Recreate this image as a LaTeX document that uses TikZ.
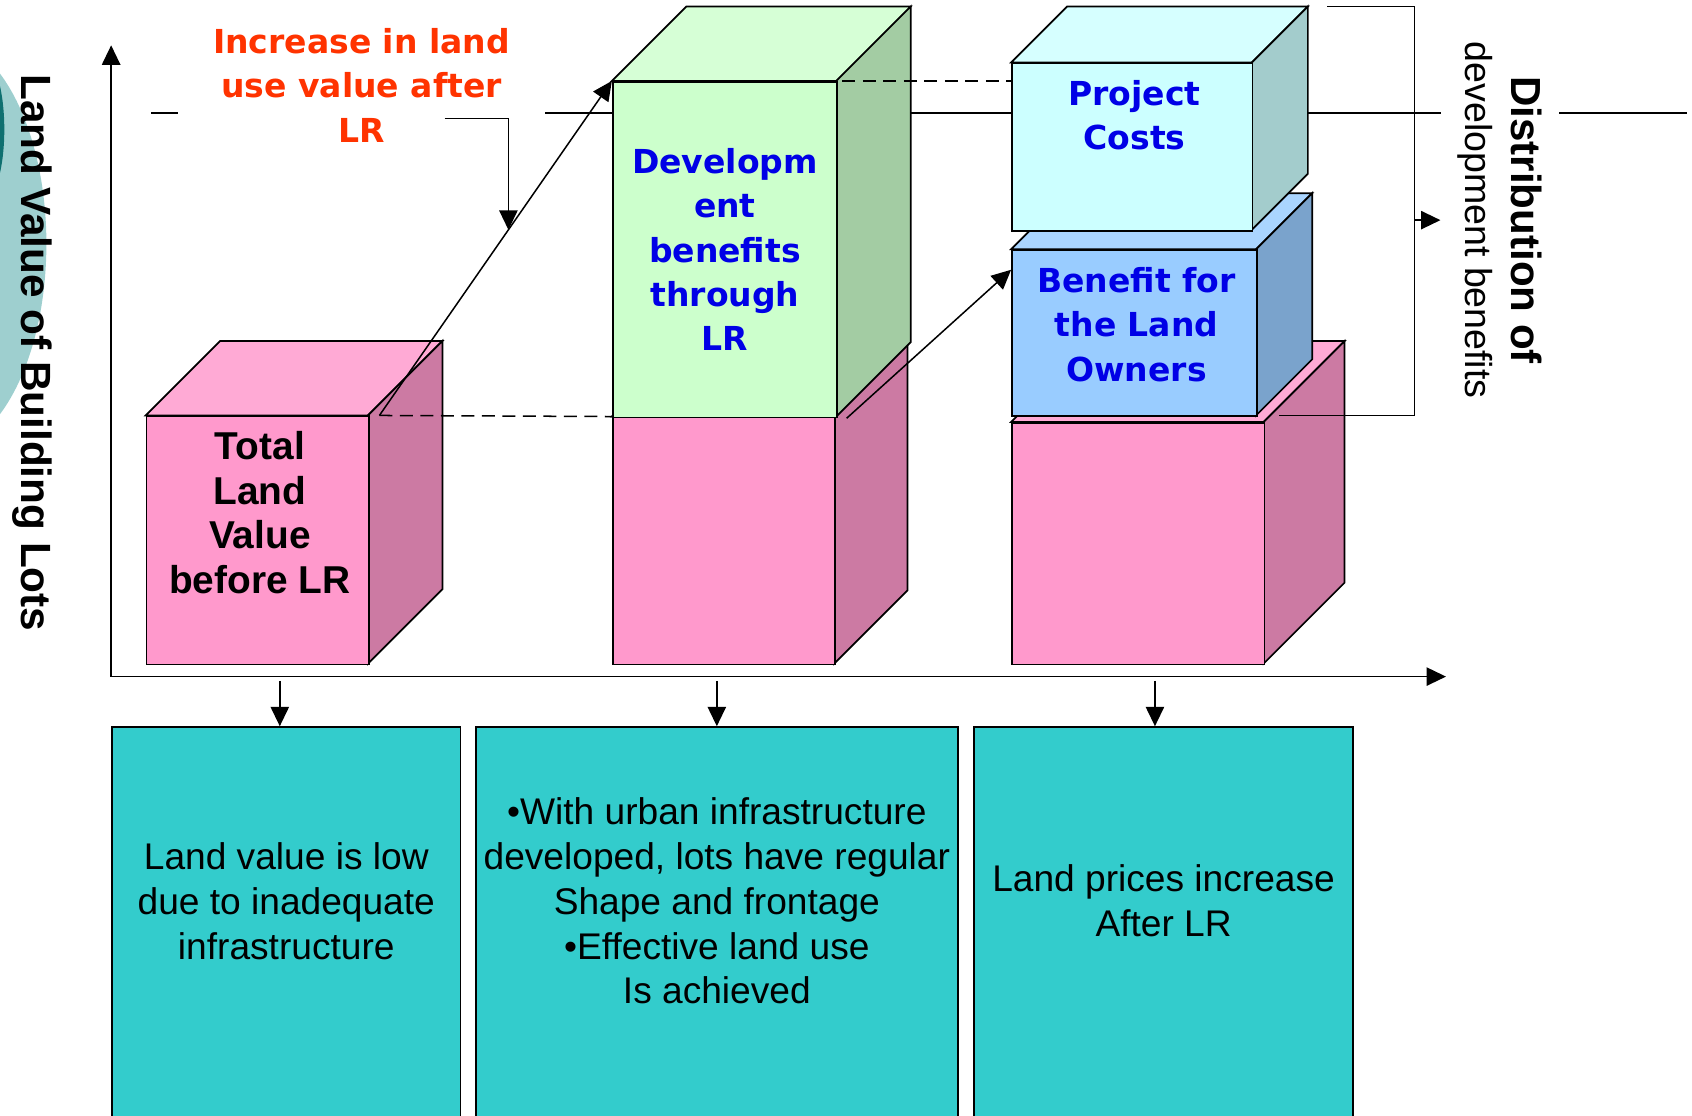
\documentclass[tikz,border=0pt]{standalone}
\usepackage{fontspec}
\newfontfamily\arial{Liberation Sans}
\newfontfamily\verdana{DejaVu Sans}
\usetikzlibrary{positioning,calc,arrows.meta}

\definecolor{pinkfront}{HTML}{FF99CC}
\definecolor{pinktop}{HTML}{FFAAD5}
\definecolor{pinkside}{HTML}{CC7AA3}
\definecolor{greenfront}{HTML}{CCFFCC}
\definecolor{greentop}{HTML}{D6FFD6}
\definecolor{greenside}{HTML}{A3CCA3}
\definecolor{cyanfront}{HTML}{CCFFFF}
\definecolor{cyantop}{HTML}{D6FFFF}
\definecolor{cyanside}{HTML}{A3CCCC}
\definecolor{bluefront}{HTML}{99CCFF}
\definecolor{bluetop}{HTML}{AAD5FF}
\definecolor{blueside}{HTML}{7AA3CC}
\definecolor{lowfill}{HTML}{33CCCC}
\definecolor{incred}{HTML}{FF3300}
\definecolor{benblue}{HTML}{0000E6}
\definecolor{mistteal}{HTML}{9ECFCF}
\definecolor{deepteal}{HTML}{0F7070}

\tikzset{
  face/.style={draw, line width=0.8pt},
  arr/.style={-{Triangle[length=9pt,width=8.5pt]}, line width=0.7pt},
  dashline/.style={dash pattern=on 6pt off 3.5pt, line width=0.7pt},
  lowbox/.style={face, fill=lowfill, inner sep=0pt, anchor=north west},
  lowtext/.style={font=\arial\fontsize{17.2}{20.75}\selectfont, align=center},
  boxtext/.style={font=\verdana\bfseries\fontsize{15.3}{20.5}\selectfont, align=center, text=benblue},
}

% front face is a node, top and side are drawn round it
\newcommand{\cuboid}[7]{% name, colour, x, y, width, height, depth
  \filldraw[face, fill=#2top] (#3,#4) -- ++(#7,-#7) -- ++(#5,0) -- ++(-#7,#7) -- cycle;
  \filldraw[face, fill=#2side] (#3+#5,#4) -- ++(#7,-#7) -- ++(0,#6) -- ++(-#7,#7) -- cycle;
  \node[face, fill=#2front, inner sep=0pt, anchor=north west,
        minimum width=#5*0.5pt, minimum height=#6*0.5pt] (#1) at (#3,#4) {};
}

\begin{document}
\begin{tikzpicture}[x=0.5pt, y=-0.5pt]

    \useasboundingbox (0,0) rectangle (1568,1034);
    \clip (0,0) rectangle (1568,1034);

    % Backdrop
    \fill[mistteal] (-57,226) ellipse (100 and 192);
    \fill[deepteal] (-16,120) ellipse (20 and 67);

    % Axes and level line
    \coordinate (origin) at (103,627);
    \coordinate (ytip)   at (103,42);
    \coordinate (xtip)   at (1340,627);
    \coordinate (lvl-l)  at (140,105);
    \coordinate (lvl-r)  at (1563,105);
    \draw[line width=0.8pt] (lvl-l) -- (lvl-r);
    \draw[arr] (origin) -- (ytip);
    \draw[arr] (origin) -- (xtip);

    % Define nodes
    \node[rotate=-90, font=\arial\bfseries\fontsize{19.6}{22}\selectfont] (yaxis) at (30,327) {Land Value of Building Lots};
    \node[fill=white, minimum width=170pt, align=center, text=incred,
          font=\verdana\bfseries\fontsize{15.3}{20.5}\selectfont] (incr) at (335,79) {Increase in land\\use value after\\LR};
    \node[fill=white, rotate=-90, align=center, inner ysep=8pt,
          font=\arial\fontsize{17.4}{21}\selectfont] (distr) at (1390,204) {\textbf{\fontsize{19.5}{21}\selectfont Distribution of}\\development benefits};

    \cuboid{before}{pink}{135}{385}{206}{230}{69}
    \cuboid{basemid}{pink}{567}{386}{206}{229}{68}
    \cuboid{gain}{green}{567}{75}{208}{311}{69}
    \cuboid{baseright}{pink}{937}{391}{234}{224}{75}
    \cuboid{owners}{blue}{937}{231}{227}{154}{52}
    \cuboid{costs}{cyan}{937}{58}{223}{155}{52}

    \node[font=\arial\bfseries\fontsize{18}{20.75}\selectfont, align=center] (before-txt) at ($(before.north)+(2,90)$) {Total\\Land\\Value\\before LR};
    \node[boxtext] (gain-txt)   at (gain) {Developm\\ent\\benefits\\through\\LR};
    \node[boxtext] (costs-txt)  at ($(costs.north)+(2,49)$) {Project\\Costs};
    \node[boxtext] (owners-txt) at ($(owners.center)+(2,-8)$) {Benefit for\\the Land\\Owners};

    \node[lowbox, minimum width=161.5pt, minimum height=185pt] (lowA) at (103,673) {};
    \node[lowbox, minimum width=223.5pt, minimum height=185pt] (lowB) at (440,673) {};
    \node[lowbox, minimum width=175.5pt, minimum height=185pt] (lowC) at (902,673) {};
    \node[lowtext] (lowA-txt) at ($(lowA.north)+(0,162)$) {Land value is low\\due to inadequate\\infrastructure};
    \node[lowtext] (lowB-txt) at ($(lowB.north)+(0,162)$) {•With urban infrastructure\\developed, lots have regular\\Shape and frontage\\•Effective land use\\Is achieved};
    \node[lowtext] (lowC-txt) at ($(lowC.north)+(0,162)$) {Land prices increase\\After LR};

    % Connect the nodes
    \coordinate (rise) at ([xshift=4.5pt]before.north east);
    \coordinate (risemid) at ($(rise)!0.555!(gain.north west)$);
    \coordinate (lrout) at (412,110);
    \draw[dashline] (rise) -- (basemid.north west);
    \draw[arr] (rise) -- (gain.north west);
    \draw[arr] (lrout) -| (risemid);
    \draw[dashline] ([xshift=2pt]gain.north east) -- (gain.north east -| costs.west);
    \draw[arr] ([xshift=4pt]gain.south east) -- ([yshift=-9.5pt]owners.north west);

    \coordinate (brtop) at (1230,6);
    \coordinate (brbot) at (1185,385);
    \coordinate (brx)   at (1311,204);
    \draw[line width=0.7pt] (brtop) -- (brtop -| brx) -- (brbot -| brx) -- (brbot);
    \draw[arr] (brx) -- (distr.south);

    \foreach \b/\s in {lowA/-3pt, lowB/0pt, lowC/-4pt}
      \draw[arr] ([xshift=\s]\b.north |- origin) ++(0,4) -- ([xshift=\s]\b.north);

\end{tikzpicture}
\end{document}
